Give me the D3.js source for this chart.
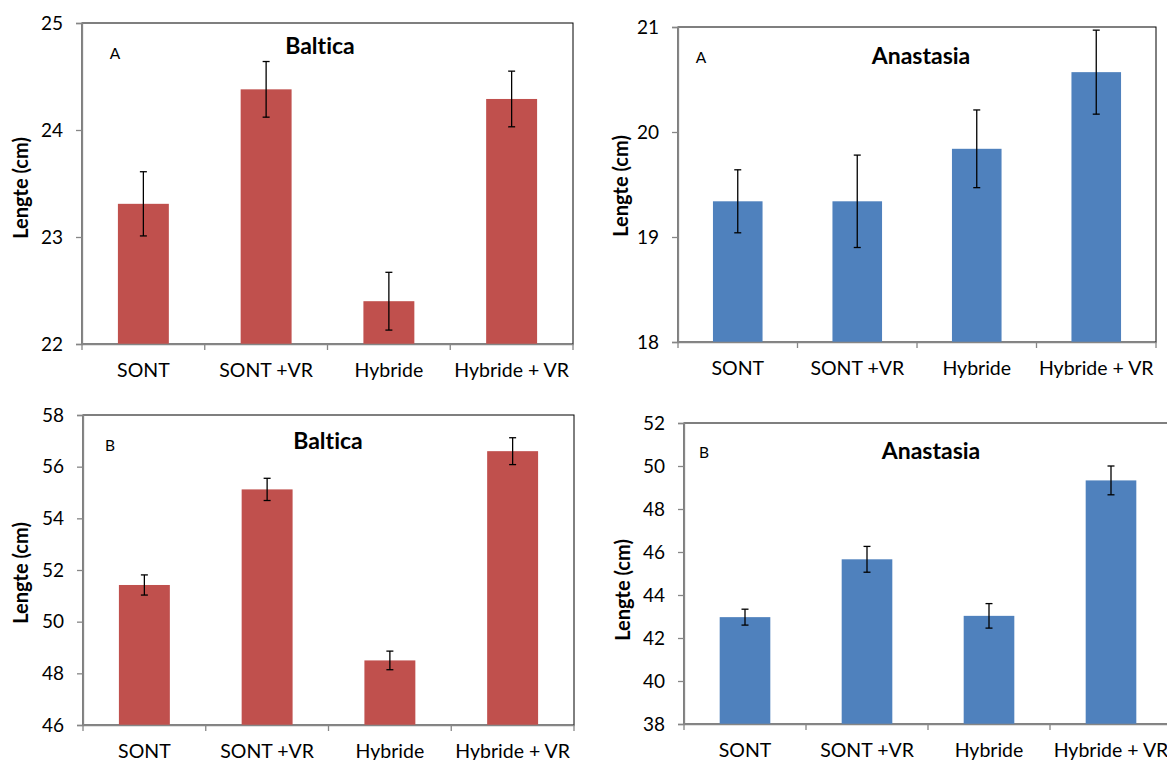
<!DOCTYPE html>
<html>
<head>
<meta charset="utf-8">
<script src="https://cdn.jsdelivr.net/npm/d3@7"></script>
<style>
  html, body { margin: 0; padding: 0; background: #fff; }
  svg { display: block; }
  text { font-family: Lato, "Open Sans", sans-serif; fill: #000; font-variant-ligatures: none; font-feature-settings: "liga" 0; }
</style>
</head>
<body>
<svg id="chart" width="1167" height="760"></svg>
<script>
// ---- data ----
const categories = ["SONT", "SONT +VR", "Hybride", "Hybride + VR"];

const balticaA      = [23.31, 24.38, 22.40, 24.29];
const balticaAErr   = [0.30, 0.26, 0.27, 0.26];
const anastasiaA    = [19.34, 19.34, 19.84, 20.57];
const anastasiaAErr = [0.30, 0.44, 0.37, 0.40];
const balticaB      = [51.42, 55.12, 48.50, 56.60];
const balticaBErr   = [0.39, 0.43, 0.36, 0.52];
const anastasiaB    = [42.97, 45.66, 43.03, 49.33];
const anastasiaBErr = [0.37, 0.60, 0.57, 0.67];

const ticksBalticaA    = [22, 23, 24, 25];
const ticksAnastasiaA  = [18, 19, 20, 21];
const ticksBalticaB    = [46, 48, 50, 52, 54, 56, 58];
const ticksAnastasiaB  = [38, 40, 42, 44, 46, 48, 50, 52];

const titles = ["Baltica", "Anastasia", "Baltica", "Anastasia"];
const letters = ["A", "A", "B", "B"];
const yLabel = "Lengte (cm)";

// ---- layout ----
const RED = "#C0504D", BLUE = "#4F81BD";
const FONT = "Lato, 'Open Sans', sans-serif";
const panels = [
  { values: balticaA, errs: balticaAErr, ticks: ticksBalticaA, title: titles[0], letter: letters[0], color: RED,
    x0: 82, x1: 573, y0: 23, y1: 344, titleX: 320, titleY: 45, letX: 115, letY: 53, ylabX: 20, ylabY: 188 },
  { values: anastasiaA, errs: anastasiaAErr, ticks: ticksAnastasiaA, title: titles[1], letter: letters[1], color: BLUE,
    x0: 678, x1: 1156, y0: 27, y1: 342, titleX: 921, titleY: 55, letX: 701, letY: 57, ylabX: 620, ylabY: 186 },
  { values: balticaB, errs: balticaBErr, ticks: ticksBalticaB, title: titles[2], letter: letters[2], color: RED,
    x0: 83, x1: 574, y0: 415, y1: 725, titleX: 328, titleY: 440, letX: 110, letY: 445, ylabX: 20, ylabY: 573 },
  { values: anastasiaB, errs: anastasiaBErr, ticks: ticksAnastasiaB, title: titles[3], letter: letters[3], color: BLUE,
    x0: 684, x1: 1172, y0: 423, y1: 724, titleX: 931, titleY: 450, letX: 704, letY: 452, ylabX: 622, ylabY: 590 }
];

const svg = d3.select("#chart");
svg.append("rect").attr("width", 1167).attr("height", 760).attr("fill", "#fff");

panels.forEach(p => {
  const g = svg.append("g");
  const x = d3.scaleBand().domain(categories).range([p.x0, p.x1])
    .paddingInner(0.585).paddingOuter(0.2925);
  const y = d3.scaleLinear().domain([p.ticks[0], p.ticks[p.ticks.length - 1]]).range([p.y1, p.y0]);

  // plot area border
  g.append("rect").attr("x", p.x0).attr("y", p.y0)
    .attr("width", p.x1 - p.x0).attr("height", p.y1 - p.y0)
    .attr("fill", "none").attr("stroke", "#000").attr("stroke-width", 1);

  // bars
  g.selectAll("rect.bar").data(p.values).enter().append("rect")
    .attr("class", "bar")
    .attr("x", (d, i) => x(categories[i]))
    .attr("width", x.bandwidth())
    .attr("y", d => y(d))
    .attr("height", d => y(p.ticks[0]) - y(d))
    .attr("fill", p.color);

  // error bars
  const eb = g.selectAll("g.err").data(p.values).enter().append("g").attr("class", "err");
  const cx = (i) => x(categories[i]) + x.bandwidth() / 2;
  eb.append("line")
    .attr("x1", (d, i) => cx(i)).attr("x2", (d, i) => cx(i))
    .attr("y1", (d, i) => y(d + p.errs[i])).attr("y2", (d, i) => y(d - p.errs[i]))
    .attr("stroke", "#000").attr("stroke-width", 1.3);
  [1, -1].forEach(s => {
    eb.append("line")
      .attr("x1", (d, i) => cx(i) - 3.5).attr("x2", (d, i) => cx(i) + 3.5)
      .attr("y1", (d, i) => y(d + s * p.errs[i])).attr("y2", (d, i) => y(d + s * p.errs[i]))
      .attr("stroke", "#000").attr("stroke-width", 1.3);
  });

  // y axis
  const yAxis = d3.axisLeft(y).tickValues(p.ticks).tickSize(6).tickPadding(13).tickFormat(d3.format("d"));
  const ya = g.append("g").attr("transform", `translate(${p.x0},0)`).call(yAxis);
  ya.select(".domain").attr("stroke", "#868686").attr("stroke-width", 1.3);
  ya.selectAll(".tick line").attr("stroke", "#868686").attr("stroke-width", 1.3);
  ya.selectAll(".tick text").attr("font-size", 19).attr("font-family", FONT).attr("fill", "#000");

  // x axis (category boundaries as tick marks)
  const xAxis = d3.axisBottom(x).tickSize(0).tickPadding(19);
  const xa = g.append("g").attr("transform", `translate(0,${p.y1})`).call(xAxis);
  xa.select(".domain").attr("stroke", "#868686").attr("stroke-width", 1.3);
  xa.selectAll(".tick text").attr("font-size", 19.5).attr("font-family", FONT).attr("fill", "#000");
  const step = x.step();
  const bounds = d3.range(categories.length + 1).map(i => p.x0 + i * step);
  xa.selectAll("line.bound").data(bounds).enter().append("line")
    .attr("class", "bound")
    .attr("x1", d => d).attr("x2", d => d).attr("y1", 0).attr("y2", 6)
    .attr("stroke", "#868686").attr("stroke-width", 1.3);

  // title, letter, y label
  g.append("text").attr("x", p.titleX).attr("y", p.titleY).attr("text-anchor", "middle")
    .attr("dominant-baseline", "central").attr("font-weight", "bold").attr("font-size", 23).text(p.title);
  g.append("text").attr("x", p.letX).attr("y", p.letY).attr("text-anchor", "middle")
    .attr("dominant-baseline", "central").attr("font-size", 15.5).text(p.letter);
  g.append("text").attr("transform", `translate(${p.ylabX},${p.ylabY}) rotate(-90)`).attr("text-anchor", "middle")
    .attr("dominant-baseline", "central").attr("font-weight", "bold").attr("font-size", 20).text(yLabel);
});
</script>
</body>
</html>
